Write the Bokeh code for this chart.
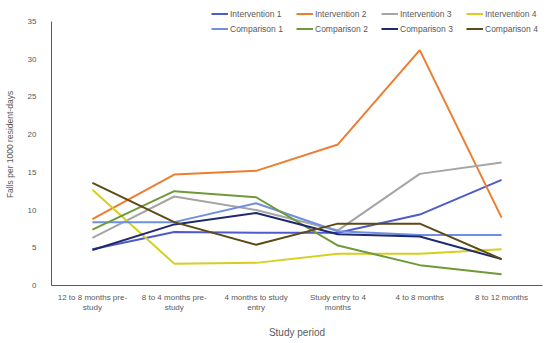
from bokeh.plotting import figure
from bokeh.models import Legend, LegendItem, FixedTicker
from bokeh.embed import file_html
from bokeh.resources import INLINE

categories = ["12 to 8 months pre-\nstudy", "8 to 4 months pre-\nstudy", "4 months to study\nentry",
              "Study entry to 4\nmonths", "4 to 8 months", "8 to 12 months"]

intervention_1 = [4.8, 7.1, 7.0, 7.0, 9.4, 14.0]
intervention_2 = [8.8, 14.7, 15.2, 18.7, 31.2, 9.0]
intervention_3 = [6.3, 11.8, 10.0, 7.3, 14.8, 16.3]
intervention_4 = [12.7, 2.9, 3.0, 4.2, 4.2, 4.8]
comparison_1 = [8.4, 8.4, 10.9, 7.2, 6.7, 6.7]
comparison_2 = [7.4, 12.5, 11.7, 5.3, 2.7, 1.5]
comparison_3 = [4.7, 8.1, 9.6, 6.8, 6.5, 3.5]
comparison_4 = [13.6, 8.4, 5.4, 8.2, 8.2, 3.5]

series_names = ["Intervention 1", "Intervention 2", "Intervention 3", "Intervention 4",
                "Comparison 1", "Comparison 2", "Comparison 3", "Comparison 4"]
series_values = [intervention_1, intervention_2, intervention_3, intervention_4,
                 comparison_1, comparison_2, comparison_3, comparison_4]
series_colors = ["#4F5BC8", "#ED7D31", "#A5A5A5", "#D6CF1E",
                 "#6F8FE0", "#6E9A3A", "#1F2A6E", "#5E4A14"]
y_ticks = [0, 5, 10, 15, 20, 25, 30, 35]
y_max = 35

FONT = "Liberation Sans"
GRAY = "#595959"

# frame extends a little above the 35 tick so the legend (above the axis top) is not clipped
y_top = y_max * 282 / 264

p = figure(width=550, height=343, x_range=categories, y_range=(0, y_top),
           output_backend="svg", toolbar_location=None,
           min_border_left=51, min_border_right=8, min_border_top=3, min_border_bottom=58)
p.outline_line_color = None
p.xgrid.grid_line_color = None
p.ygrid.grid_line_color = None
p.x_range.range_padding = 0

items = []
for name, vals, col in zip(series_names, series_values, series_colors):
    r = p.line(x=categories, y=vals, line_color=col, line_width=2)
    items.append(LegendItem(label=name, renderers=[r]))

p.yaxis.ticker = FixedTicker(ticks=y_ticks)
p.yaxis.bounds = (0, y_max)
for ax in (p.xaxis[0], p.yaxis[0]):
    ax.major_tick_line_color = None
    ax.minor_tick_line_color = None
    ax.axis_line_color = GRAY
    ax.axis_line_width = 1
    ax.major_label_text_font = FONT
    ax.major_label_text_font_size = "8px"
    ax.major_label_text_color = GRAY
    ax.axis_label_text_font = FONT
    ax.axis_label_text_font_style = "normal"
    ax.axis_label_text_color = GRAY

p.yaxis.axis_label = "Falls per 1000 resident-days"
p.yaxis.axis_label_text_font_size = "8.5px"
p.yaxis.major_label_standoff = 9
p.yaxis.axis_label_standoff = 10
p.xaxis.axis_label = "Study period"
p.xaxis.axis_label_text_font_size = "10px"
p.xaxis.major_label_standoff = 1
p.xaxis.axis_label_standoff = 12

legend = Legend(items=items, location=(160, 250), orientation="horizontal", nrows=2,
                label_text_font=FONT, label_text_font_size="8.5px", label_text_color=GRAY,
                glyph_width=17, glyph_height=13, label_height=13, label_width=64,
                label_standoff=2, spacing=2, padding=0, margin=0,
                background_fill_alpha=0, border_line_alpha=0)
p.add_layout(legend, "center")

open("out.html", "w").write(file_html(p, INLINE))
